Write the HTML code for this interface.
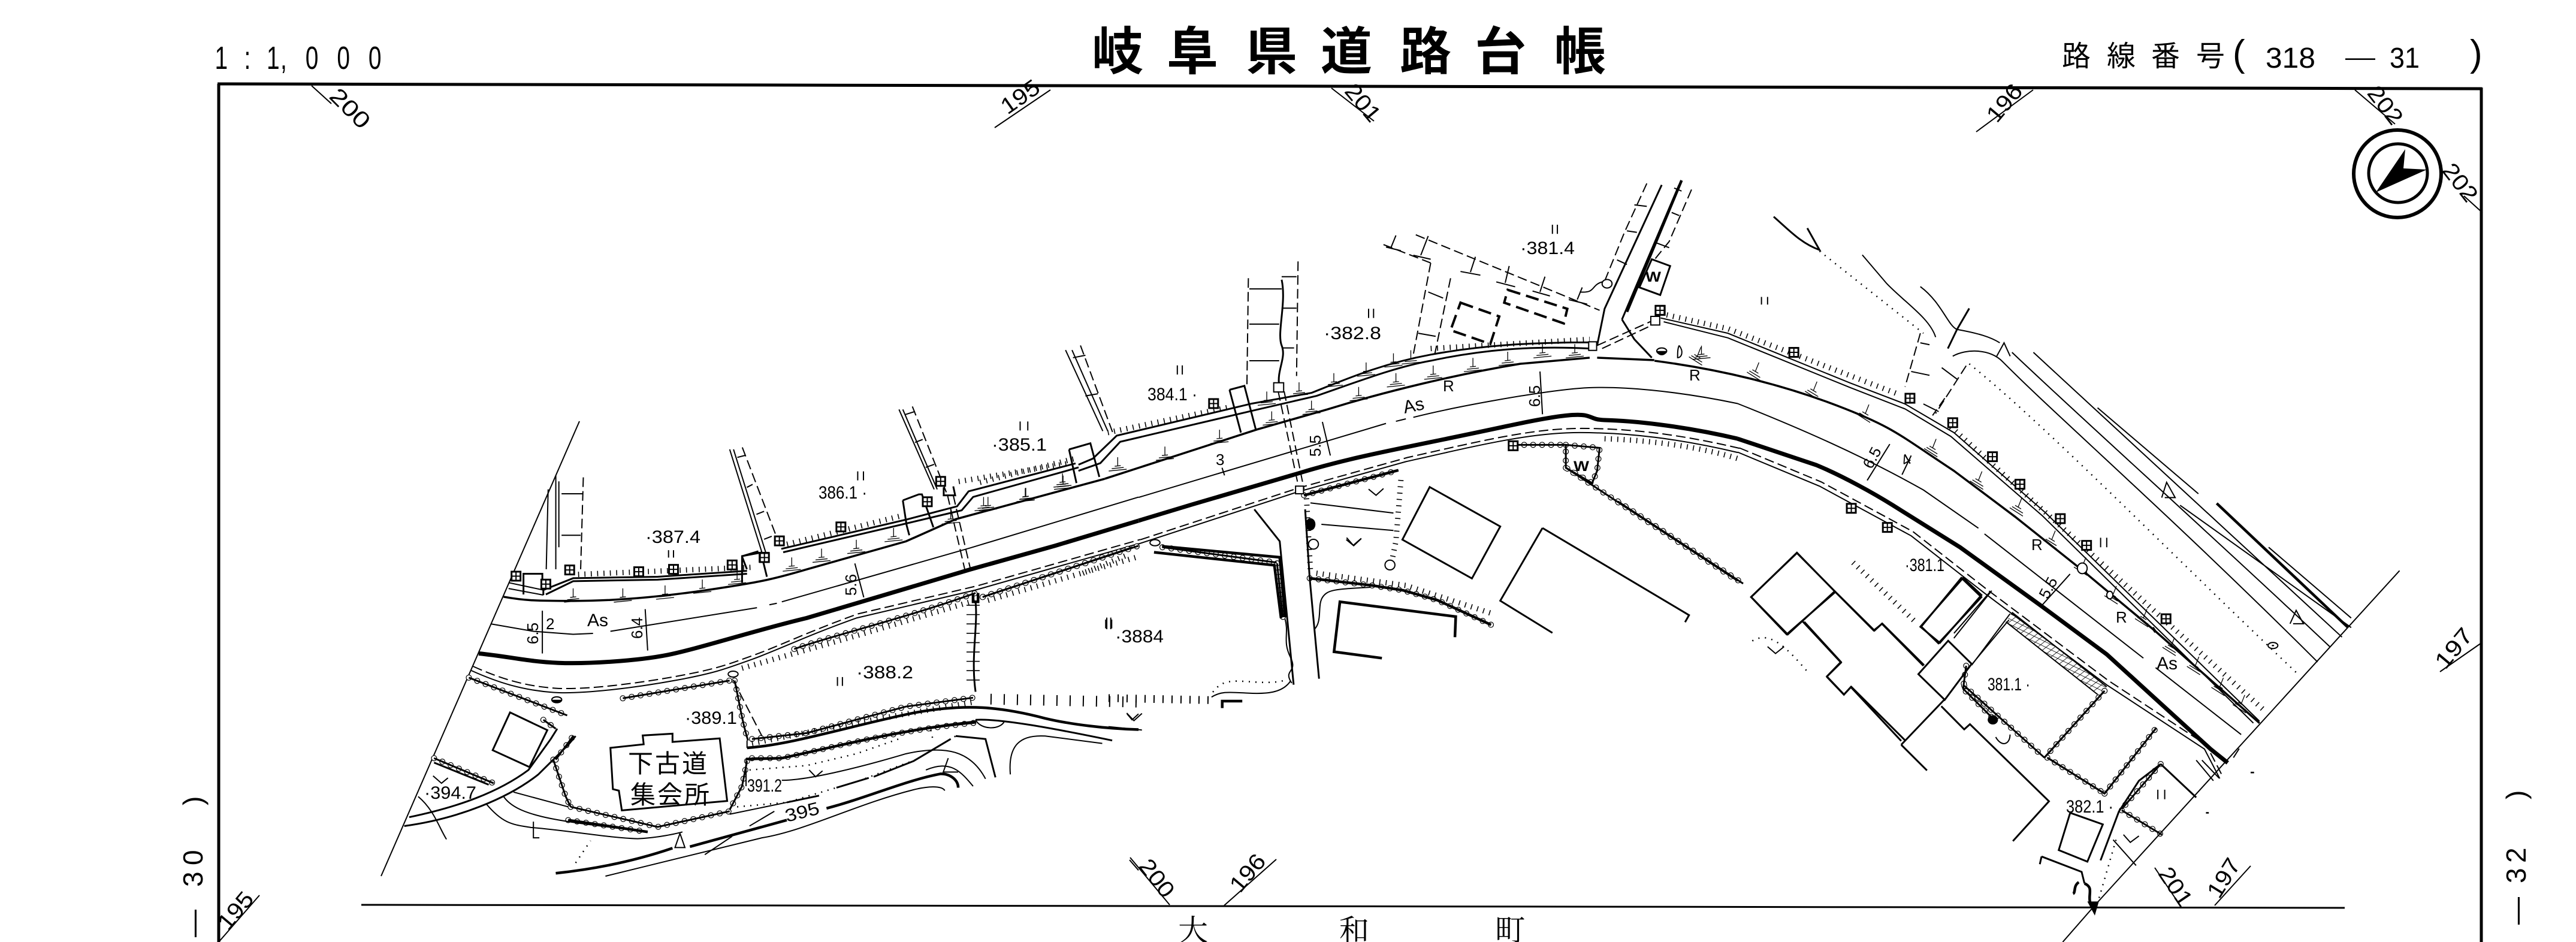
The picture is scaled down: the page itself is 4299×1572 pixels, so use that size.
<!DOCTYPE html>
<html lang="ja"><head><meta charset="utf-8"><title>岐阜県道路台帳</title>
<style>
html,body{margin:0;padding:0;background:#fff}
body{width:4299px;height:1572px;overflow:hidden}
svg{display:block}
svg *{vector-effect:non-scaling-stroke}
svg{fill:none;stroke:#000;stroke-width:2}
.t{stroke-width:2}.m{stroke-width:3}.e{stroke-width:3.5}.b{stroke-width:4.5}.x{stroke-width:7}
.d{stroke-width:2;stroke-dasharray:16 7}
.db{stroke-width:4;stroke-dasharray:22 10}
.o{stroke-width:2.5;stroke-dasharray:2 9}
.ts{stroke-width:9;stroke-dasharray:1.6 9}
.hb{stroke-width:10;stroke-dasharray:0 15;stroke-linecap:round}
.hw{stroke-width:7.6;stroke-dasharray:0 15;stroke-linecap:round;stroke:#fff}
.gm{stroke-width:1.3}
.f{fill:#000;stroke:none}
.wf{fill:#fff;stroke:#000}
text{fill:#000;stroke:none;font-family:"Liberation Sans","Noto Sans CJK JP",sans-serif}
.n{font-size:30px}
.tt{font-size:86px;font-weight:700}
.lb{font-size:38px}
.jp{font-size:42px}
</style></head><body>
<svg xmlns="http://www.w3.org/2000/svg" width="4299" height="1572" viewBox="0 0 4299 1572">
<defs>
<g id="bx"><rect class="f" x="-9" y="-9" width="18" height="18"/><rect x="-6" y="-6" width="5" height="5" fill="#fff" stroke="none"/><rect x="1" y="-6" width="5" height="5" fill="#fff" stroke="none"/><rect x="-6" y="1" width="5" height="5" fill="#fff" stroke="none"/><rect x="1" y="1" width="5" height="5" fill="#fff" stroke="none"/></g>
<g id="b2" transform="scale(1.206,2.031)"><use href="#bx"/></g>
<g id="b3" transform="scale(1.206,1.96)"><use href="#bx"/></g>
<g id="b4" transform="scale(.98,1.568)"><use href="#bx"/></g>
<g id="b7" transform="scale(1.568,3)"><use href="#bx"/></g>
<g id="g2" transform="scale(1.206,2.031)"><path class="gm" d="M0,-15V0M-5,0L5,-1M-10,4L10,2M-15,8L15,5"/></g>
<g id="g3" transform="scale(1.206,1.96)"><path class="gm" d="M0,-15V0M-5,0L5,-1M-10,4L10,2M-15,8L15,5"/></g>
<g id="g4" transform="scale(.98,1.568)"><path class="gm" d="M6,-15L0,0M-5,-3L5,3M-10,-1L8,10M-14,1L8,15"/></g>
<pattern id="gh" width="11" height="11" patternUnits="userSpaceOnUse" patternTransform="rotate(38)"><path d="M0,0H11M0,0V11" stroke="#000" stroke-width="2" fill="none"/></pattern>
<g id="hg">
<g transform="translate(600,800) scale(.8291,.4923)">
<path d="M530,742L745,682"/><path d="M755,682C765,760 770,820 782,885"/><path d="M790,880L900,860L1010,810L1100,770L1235,740"/>
<path d="M790,945L850,945C950,910 1080,850 1240,825"/><path d="M780,955L770,1040L745,1120"/>
<path d="M390,950L415,1075L425,1110"/><path d="M425,1110L600,1178L745,1125"/><path d="M420,1155L580,1195"/>
<path d="M150,945L270,1030"/><path d="M220,672L418,800"/><path d="M875,575C950,530 1100,470 1240,385"/><path d="M1255,398L1568,225"/>
<path d="M370,815L395,845"/><path d="M395,950L430,870"/>
</g>
<g transform="translate(1600,250) scale(.8291,.5102)">
<path d="M48,1463L350,1300"/><path d="M695,1130L885,1048"/><path d="M410,1300L640,1350"/>
<path d="M1222,965L1290,975L1285,1050L1275,1090L1222,1040Z"/><path d="M1120,965L1222,965"/><path d="M1222,1040L1568,1410"/>
</g>
<g transform="translate(1850,850) scale(.4464,.3333)">
<path d="M630,270L652,540"/>
<path d="M752,345L980,380L1100,405L1230,455L1430,578"/>
</g>
<g transform="translate(2700,250) scale(1.0198,.6378)">
<path d="M0,920L205,1135"/>
<path d="M570,1350L565,1410L615,1490"/>
</g>
<g transform="translate(2800,900) scale(.956,.4286)">
<path d="M500,570L640,850"/><path d="M645,850L745,990"/><path d="M745,990L835,735"/><path d="M745,590L640,850"/><path d="M843,875L775,1050"/><path d="M775,1055L845,1150"/>
</g>
</g>
<g id="swk">
<g transform="translate(600,800) scale(.8291,.4923)"><path d="M225,648C280,690 330,715 390,722S560,705 640,680S740,640 790,610S900,530 1000,470L1240,375L1568,218"/></g>
<g transform="translate(1600,250) scale(.8291,.5102)"><path d="M362,1289L680,1120L900,1020C1050,965 1150,925 1250,925S1450,945 1568,990"/></g>
<g transform="translate(2700,250) scale(1.0198,.6378)"><path d="M196,791L330,880L480,1010L600,1160L800,1400L960,1568L985,1645"/></g>
</g>
</defs>

<!-- frame -->
<path class="b" d="M365,140L365,1572M363,140L4142,148M4141,146L4141,1572" style="stroke-width:5"/>
<path class="m" d="M603,1510L3913,1515"/>

<!-- header -->
<text class="tt" x="1822 1947 2079 2204 2336 2461 2594" y="116">岐阜県道路台帳</text>
<text font-size="48" x="3441 3516 3590 3665" y="110" style="font-family:'Liberation Sans','Noto Sans CJK JP',sans-serif">路線番号</text>
<text font-size="62" x="3726" y="110">(</text>
<text font-size="48" x="3781" y="113" textLength="83" lengthAdjust="spacingAndGlyphs">318</text>
<text font-size="40" x="3914" y="109" textLength="50" lengthAdjust="spacingAndGlyphs">—</text>
<text font-size="48" x="3988" y="113" textLength="50" lengthAdjust="spacingAndGlyphs">31</text>
<text font-size="62" x="4122" y="110">)</text>
<g transform="scale(.72,1)"><text font-size="54" x="498 566 618 650 708 781 854" y="115">1:1,000</text></g>
<text font-size="46" transform="translate(338,1572) rotate(-90)" x="8 92 128 228" y="0">—30)</text>
<text font-size="46" transform="translate(4215,1572) rotate(-90)" x="29 98 132 238" y="0">—32)</text>
<text font-size="50" x="1966 2235 2495" y="1570" style="font-family:'Liberation Serif','Noto Serif CJK SC',serif">大和町</text>

<!-- grid ticks -->
<g class="t">
<path d="M520,143L553,173M1753,150L1660,213M2222,147L2293,202M3393,150L3298,220M3930,150L3997,207M4112,327L4143,355M4141,1073L4072,1121M365,1572L433,1494M1886,1431L1952,1510M2043,1511L2130,1434M3596,1448L3641,1515M3696,1511L3756,1445"/>
</g>
<g class="lb">
<text text-anchor="middle" transform="translate(585,180) rotate(45)" textLength="78" lengthAdjust="spacingAndGlyphs" y="14">200</text>
<text text-anchor="middle" transform="translate(1710,172) rotate(-35)" textLength="70" lengthAdjust="spacingAndGlyphs" y="0">195</text>
<text text-anchor="middle" transform="translate(2274,172) rotate(50)" textLength="70" lengthAdjust="spacingAndGlyphs" y="12">201</text>
<text text-anchor="middle" transform="translate(3355,180) rotate(-50)" textLength="70" lengthAdjust="spacingAndGlyphs" y="0">196</text>
<text text-anchor="middle" transform="translate(3980,176) rotate(52)" textLength="70" lengthAdjust="spacingAndGlyphs" y="12">202</text>
<text text-anchor="middle" transform="translate(4105,305) rotate(52)" textLength="70" lengthAdjust="spacingAndGlyphs" y="12">202</text>
<text text-anchor="middle" transform="translate(4105,1090) rotate(-50)" textLength="75" lengthAdjust="spacingAndGlyphs" y="0">197</text>
<text text-anchor="middle" transform="translate(403,1528) rotate(-50)" textLength="70" lengthAdjust="spacingAndGlyphs" y="0">195</text>
<text text-anchor="middle" transform="translate(1930,1466) rotate(52)" textLength="70" lengthAdjust="spacingAndGlyphs" y="12">200</text>
<text text-anchor="middle" transform="translate(2092,1465) rotate(-50)" textLength="70" lengthAdjust="spacingAndGlyphs" y="0">196</text>
<text text-anchor="middle" transform="translate(3630,1480) rotate(56)" textLength="70" lengthAdjust="spacingAndGlyphs" y="12">201</text>
<text text-anchor="middle" transform="translate(3722,1472) rotate(-58)" textLength="70" lengthAdjust="spacingAndGlyphs" y="0">197</text>
</g>

<!-- north arrow -->
<circle class="wf" cx="4001" cy="290" r="73" style="stroke-width:6"/>
<circle cx="4002" cy="289" r="49" style="stroke-width:5"/>
<path class="f" d="M4014,249L3965,321L4050,283L4011,281Z"/>

<!-- boundary, road -->
<path class="t" d="M967,703L636,1462"/>

<!-- sidewalk / south edge double -->
<use href="#swk" class="t"/>
<use href="#swk" class="d" transform="translate(3,-7)"/>

<!-- hedges -->
<use href="#hg" class="hb"/>
<use href="#hg" class="hw"/>
<use href="#hg" class="m"/>

<!-- Z7 region -->
<g transform="translate(800,550) scale(.6378,.3333)">
<path class="t" d="M200,730V1200M180,800L175,1200M208,760V1090"/>
<path class="d" d="M272,740L265,1200"/>
<path class="t" d="M215,822H270M215,1030H265"/>
<path class="t" d="M655,600L740,1120M665,600L750,1120"/><path class="d" d="M688,590L778,1040"/>
<path class="t" d="M675,640L695,630M700,790L715,775M725,925L745,910M745,1050L765,1035"/>
<path class="t" d="M1098,400L1190,800M1108,400L1198,800"/><path class="d" d="M1133,385L1225,830"/>
<path class="t" d="M1115,425L1140,410M1140,565L1160,550M1168,690L1190,675"/>
<path class="m" d="M790,1098L1120,950L1250,885L1280,810L1560,670"/>
<path class="m" d="M795,1115L1130,965L1262,905L1292,838L1568,690"/>
<path class="ts" d="M805,1075L1110,930"/><path class="ts" d="M1310,765L1560,645"/>
<path class="m" d="M1108,855L1118,980L1125,1030M1108,855L1150,825L1158,825L1188,990"/>
<path class="m" d="M1215,790V830L1245,830L1240,785"/>
<path class="m" d="M687,1135L730,1110M687,1135L700,1200"/>
<path class="d" d="M1240,830L1285,1200"/><path class="d" d="M1225,830L1270,1200"/>
<use href="#b7" x="785" y="1058"/><use href="#b7" x="745" y="1140"/><use href="#b7" x="1207" y="760"/><use href="#b7" x="1172" y="862"/><use href="#b7" x="946" y="988"/>
<path class="t" d="M990,710V755M1005,710V755M1415,460V505M1435,460V505"/>
</g>

<!-- Z2 region -->
<g transform="translate(600,800) scale(.8291,.4923)">
<path class="x" d="M240,590C300,600 340,618 400,622S560,615 620,595S800,510 900,470L1050,395L1230,305L1400,225L1568,140"/>
<path class="t" d="M265,490L350,515L430,525L470,522M505,515L800,435M825,425L840,420M850,415L1230,232L1568,60"/>
<path class="e" d="M290,398C330,410 350,412 430,412S600,400 700,375S830,340 900,305L1100,210L1200,135L1500,-2"/>
<path class="m" d="M370,392V340M370,375L430,335L600,330L780,310M375,390L430,345L600,340L780,320"/>
<path class="ts" d="M440,322L790,298"/>
<path class="t" d="M300,350L370,375M300,370L370,392"/>
<path class="m" d="M330,390V320H368V350M770,350V260L808,248L820,330"/>
<use href="#b2" x="315" y="328"/><use href="#b2" x="375" y="355"/><use href="#b2" x="423" y="307"/><use href="#b2" x="562" y="313"/><use href="#b2" x="632" y="305"/><use href="#b2" x="750" y="290"/><use href="#b2" x="815" y="265"/>
<use href="#g2" x="430" y="400"/><use href="#g2" x="530" y="400"/><use href="#g2" x="615" y="390"/><use href="#g2" x="690" y="370"/><use href="#g2" x="760" y="340"/><use href="#g2" x="870" y="295"/><use href="#g2" x="930" y="265"/><use href="#g2" x="1000" y="235"/><use href="#g2" x="1075" y="195"/><use href="#g2" x="1190" y="135"/><use href="#g2" x="1265" y="90"/><use href="#g2" x="1340" y="60"/><use href="#g2" x="1415" y="10"/>
<path class="t" d="M368,445V590M575,440L580,580M997,285L1015,400"/>
<path class="t" d="M622,240V265M632,240V265M962,670V700M972,670V700M1502,475V505M1514,475V505"/>
<!-- south parcels -->
<path class="ts" d="M770,640L1000,530L1240,410"/>
<path class="ts" d="M1265,410L1568,262"/>
<path class="b" d="M1235,385V415H1245V385"/>
<path class="m" d="M1240,415C1245,500 1230,600 1240,720"/>
<path style="stroke-width:22;stroke-dasharray:1.6 14" d="M1235,425V700"/>
<path class="d" d="M752,680L810,870"/>
<circle class="wf" cx="752" cy="660" r="10"/>
<path class="b" d="M780,910C870,900 1000,830 1120,790C1220,760 1290,770 1380,810C1430,830 1500,845 1568,848"/>
<path class="m" d="M1240,815C1290,810 1400,845 1515,885"/>
<path class="b" d="M778,948L850,945C950,910 1080,850 1240,822"/>
<path class="ts" d="M790,895L1000,825L1235,755"/>
<path style="stroke-width:18;stroke-dasharray:2 20" d="M1270,745L1568,755"/>
<path class="t" d="M780,885V910M778,950V1040"/>
<path class="o" d="M785,985L900,970L1000,930L1085,880M1150,850L1155,890"/>
<path class="o" d="M760,1110L860,1095L1000,1025L1120,950L1200,870"/>
<path class="m" d="M860,1095L925,1072M960,1045L1025,1012M1035,1008L1115,955L1190,880"/>
<path class="t" d="M745,1135L860,1095"/>
<path class="b" d="M395,1335C480,1320 560,1290 630,1250M665,1245L860,1155M940,1115C1020,1080 1100,1020 1170,998C1190,998 1205,1020 1205,1045"/>
<path class="t" d="M495,1345L810,1215C900,1190 1000,1100 1120,1050C1160,1035 1175,1045 1178,1055"/>
<path class="t" d="M850,1020C900,1020 1000,980 1100,930C1180,900 1230,920 1260,1015"/>
<path class="t" d="M1140,985C1190,950 1210,990 1235,1040"/>
<path class="m" d="M1200,870L1260,880L1280,1010"/>
<path class="t" d="M1310,1000C1305,900 1330,865 1380,870L1495,895"/>
<path class="t" d="M1240,815C1250,850 1290,850 1298,820"/>
<path class="t" d="M835,1125L785,1175M750,1210L695,1272"/>
<path class="o" d="M435,1300L465,1225"/>
<path class="t" d="M310,1060L420,1110M290,1075C320,1150 420,1160 580,1195M255,1100C290,1170 310,1170 345,1180C420,1190 500,1215 560,1218C600,1215 640,1200 650,1195M118,1075C150,1120 160,1180 175,1220"/>
<path class="m" d="M90,1175C200,1150 300,1080 360,1000L420,900L435,870M100,1145C200,1110 280,1060 340,985L385,880L398,845"/>
<path class="m" d="M150,960L260,1035M303,790L378,850L342,975L268,918ZM378,850"/>
<path class="b" d="M420,1155L580,1195"/>
<path class="m" d="M505,910L572,898L570,868L630,862V890L725,878L740,1090L528,1122L522,1055L510,1050Z"/>
<circle class="wf" cx="397" cy="747" r="10"/><path class="f" d="M387,747A10,10 0 0 0 407,747Z"/>
<path class="t" d="M148,1005L165,1030L178,1012M905,985L918,1008L932,988M1545,795L1555,815L1568,795M1550,1290L1568,1325"/>
<path class="t" d="M350,1160V1215H362M645,1200L635,1248H655L645,1200M1185,945L1175,992H1205"/>
</g>

<!-- Z8 region: centre parcels -->
<g transform="translate(1850,850) scale(.4464,.3333)">
<path class="b" d="M200,185L640,240L660,540"/>
<path class="b" d="M170,215L620,280L645,545"/>
<path class="m" d="M545,0L640,160L692,878"/>
<path class="m" d="M735,0L752,345L787,848"/>
<path class="t" d="M660,550C675,620 650,660 680,740S650,800 685,870"/>
<path class="t" d="M385,940C420,910 450,915 520,920S650,920 680,860"/>
<path class="o" d="M390,915C410,880 430,860 480,860S620,880 670,850"/>
<path style="stroke-width:13;stroke-dasharray:2 13" d="M0,945L375,955"/>
<path class="b" d="M425,995V960H500"/>
<path class="b" d="M1295,640L1298,537L865,463L843,713L1022,745"/>
<path class="t" d="M0,1088L125,1105"/>
<path class="t" d="M770,600C800,560 780,480 800,440S850,400 980,390"/>
<path class="b" d="M752,345L980,380L1100,405L1230,455L1430,578"/>
</g>

<!-- Z3 region -->
<g transform="translate(1600,250) scale(.8291,.5102)">
<path class="x" d="M362,1213L470,1160L680,1060C800,1000 900,975 1100,905S1250,882 1300,884S1450,900 1568,945"/>
<path class="t" d="M362,1137L520,1060L860,895M880,888L900,880M915,875C1000,840 1170,790 1250,780S1450,790 1568,830"/>
<path class="e" d="M294,1076L600,915L740,850C860,790 1000,735 1130,700L1270,680M1285,680L1400,688"/>
<path class="m" d="M241,1030L270,1010L318,935L590,830L710,795C780,750 850,700 950,670C1050,640 1150,630 1270,630"/>
<path class="m" d="M241,1050L285,1025L325,955L600,850L720,805C800,760 880,710 950,690C1050,655 1150,640 1270,650"/>
<path class="ts" d="M0,1085L225,1025"/><path class="ts" d="M300,925L550,840"/><path class="ts" d="M950,650L1270,620"/>
<path class="m" d="M222,980L265,960L283,1070M222,980L237,1090M545,785L575,772L598,915M545,785L568,925"/>
<use href="#b3" x="513" y="830"/><use href="#b3" x="1412" y="525"/>
<use href="#g3" x="50" y="1165"/><use href="#g3" x="135" y="1135"/><use href="#g3" x="210" y="1095"/><use href="#g3" x="320" y="1035"/><use href="#g3" x="415" y="1000"/><use href="#g3" x="525" y="945"/><use href="#g3" x="630" y="885"/><use href="#g3" x="710" y="850"/><use href="#g3" x="805" y="805"/><use href="#g3" x="880" y="760"/><use href="#g3" x="955" y="735"/><use href="#g3" x="1035" y="710"/><use href="#g3" x="1105" y="690"/><use href="#g3" x="1175" y="665"/><use href="#g3" x="1240" y="665"/><use href="#g3" x="620" y="820"/><use href="#g3" x="685" y="790"/><use href="#g3" x="755" y="760"/><use href="#g3" x="820" y="725"/><use href="#g3" x="875" y="695"/><use href="#g3" x="910" y="685"/><use href="#g3" x="1495" y="670"/>
<path class="t" d="M215,655L290,920M228,655L300,920"/><path class="d" d="M245,640L310,925"/>
<path class="t" d="M230,680L255,672M255,805L280,798"/>
<path class="m" d="M650,425C660,500 640,600 650,640S640,720 645,770"/>
<path class="d" d="M583,420L580,780"/><path class="d" d="M683,365L680,740"/>
<path class="t" d="M585,455H650M585,570H645M585,690H645M650,415H680M650,518H680M650,648H675"/>
<rect class="wf" x="634" y="762" width="20" height="30"/>
<path class="d" d="M643,790L685,1110"/><path class="d" d="M655,790L695,1110"/>
<rect class="wf" x="678" y="1100" width="16" height="25"/>
<path class="b" d="M695,1130L885,1048"/>
<path class="ts" d="M250,1385L340,1325"/>
<circle class="wf" cx="395" cy="1285" r="10"/>
<path class="ts" d="M890,1080L880,1280L870,1360"/><path class="ts" d="M700,1140L708,1380"/>
<path class="t" d="M708,1155L875,1188M730,1225L875,1245"/>
<path class="t" d="M825,1110L840,1130L855,1108M780,1275L795,1295L810,1272"/>
<ellipse class="f" cx="708" cy="1225" rx="10" ry="20"/>
<ellipse class="wf" cx="714" cy="1290" rx="10" ry="16"/><ellipse class="wf" cx="868" cy="1358" rx="10" ry="16"/>
<path class="ts" d="M720,1385L900,1425L1070,1515"/>
<path class="m" d="M948,1103L1090,1232L1033,1402L893,1275Z"/>
<path class="m" d="M1175,1237L1470,1522L1462,1545M1175,1237L1090,1475L1195,1580"/>
<path class="ts" d="M1300,945C1400,950 1500,975 1568,1010"/>
<rect class="f" x="1110" y="955" width="16" height="30"/>
<!-- junction -->
<path class="m" d="M1285,640L1300,520L1415,115M1335,555L1450,115"/>
<path class="b" d="M1345,530L1455,100"/>
<path class="d" d="M1385,110L1340,270L1300,430"/><path class="d" d="M1475,130L1430,300L1400,360"/>
<path class="t" d="M1360,180L1385,185M1345,265L1365,270M1325,360L1345,375M1440,125L1455,135M1435,205L1450,215M1405,305L1430,320"/>
<path class="t" d="M1250,465C1285,470 1270,440 1300,430"/><ellipse class="wf" cx="1305" cy="438" rx="10" ry="14"/>
<path class="m" d="M1335,555L1360,620L1395,680"/>
<path class="d" d="M1285,640L1395,560"/><path class="d" d="M1295,650L1400,570"/>
<rect class="wf" x="1268" y="628" width="16" height="28"/><rect class="wf" x="1393" y="545" width="18" height="28"/>
<path class="m" d="M1395,358L1432,380L1412,475L1370,450Z"/>
<circle class="wf" cx="1415" cy="658" r="10"/><path class="f" d="M1405,658A10,14 0 0 0 1425,658Z"/>
<path class="t" d="M1450,640C1460,660 1455,680 1447,680C1447,665 1447,650 1450,640"/>
<path class="d" d="M855,310L950,370"/><path class="d" d="M920,278L1290,525"/>
<path class="t" d="M880,280L870,320M945,282L930,345M1040,350L1030,400M1108,380L1100,435M1180,415L1170,465M1255,450L1245,490"/>
<path class="t" d="M860,318L890,330M915,345L950,358M1010,398L1050,410M1082,432L1120,448M1155,462L1190,478M1228,490L1265,505"/>
<path class="d" d="M950,370L915,670"/><path class="d" d="M990,420L958,670"/>
<path class="t" d="M945,465L975,485M925,600L960,610"/>
<path class="db" d="M1010,500L1088,545L1070,635L990,590Z"/><path class="db" d="M1105,458L1225,520L1218,568L1098,500Z"/>
<path class="t" d="M732,890L748,1000M1170,725L1175,865M530,1040L535,1065"/>
<path class="t" d="M440,705V735M450,705V735M825,520V550M835,520V550M1195,245V275M1205,245V275M298,1530V1568M306,1530V1568"/>
<use href="#b3" x="1116" y="968"/>
</g>

<!-- Z4 region -->
<g transform="translate(2700,250) scale(1.0198,.6378)">
<path class="x" d="M196,756L325,825C370,855 420,900 450,930L560,1040L690,1190L800,1320L970,1568L998,1604"/>
<path class="t" d="M196,664C300,730 400,800 500,890L590,990M600,1005L620,1030L860,1330M880,1355L1020,1530"/>
<path class="e" d="M60,552C170,575 270,615 360,670S460,745 550,840L650,960L760,1100L880,1260L1050,1500"/>
<path class="t" d="M70,440L180,480L380,610L470,665L550,740L700,950L1050,1495"/>
<path class="t" d="M75,450L180,492L380,622L470,678L545,750L695,958L1040,1500"/>
<path class="ts" d="M80,432L180,468L460,640"/><path class="ts" d="M545,725L1060,1470"/>
<use href="#b4" x="69" y="420"/><use href="#b4" x="288" y="530"/><use href="#b4" x="478" y="650"/><use href="#b4" x="548" y="714"/><use href="#b4" x="613" y="803"/><use href="#b4" x="658" y="875"/><use href="#b4" x="724" y="965"/><use href="#b4" x="767" y="1035"/><use href="#b4" x="897" y="1227"/><use href="#b4" x="382" y="938"/><use href="#b4" x="441" y="988"/>
<use href="#g4" x="130" y="540"/><use href="#g4" x="225" y="580"/><use href="#g4" x="320" y="630"/><use href="#g4" x="405" y="690"/><use href="#g4" x="515" y="780"/><use href="#g4" x="590" y="865"/><use href="#g4" x="655" y="935"/><use href="#g4" x="710" y="1020"/><use href="#g4" x="760" y="1090"/><use href="#g4" x="810" y="1165"/><use href="#g4" x="860" y="1225"/><use href="#g4" x="905" y="1300"/><use href="#g4" x="945" y="1350"/><use href="#g4" x="985" y="1405"/><use href="#g4" x="1020" y="1450"/>
<path class="m" d="M255,175C280,210 300,245 330,262L310,205"/>
<path class="o" d="M330,265L500,480"/>
<path class="t" d="M400,275L440,350C470,400 510,440 520,490M495,358C530,400 540,460 555,470"/>
<path class="m" d="M575,415L555,470L540,520"/>
<path class="t" d="M555,470C590,480 610,490 625,505M548,540C570,520 610,520 630,555C720,700 900,950 1145,1340"/>
<path class="t" d="M645,530C750,690 1000,1050 1165,1300M680,530L1185,1275M785,675L950,900M920,930L1200,1250"/>
<path class="b" d="M980,925L1195,1250"/><path class="t" d="M1065,1040L1200,1225"/>
<path class="o" d="M575,560C700,720 900,1050 1115,1375"/>
<path class="t" d="M620,540L632,505L642,540M890,910L898,870L912,910H895M1100,1240L1110,1205L1122,1240H1105"/>
<circle class="wf" cx="1072" cy="1297" r="8"/><circle class="f" cx="1072" cy="1297" r="2"/>
<path class="d" d="M495,480L470,620"/><path class="d" d="M570,565L520,690"/><path class="d" d="M535,650L515,695"/>
<path class="t" d="M495,505L510,510M480,580L510,590M530,570L555,600M500,665L525,685"/>
<path class="ts" d="M385,1080L490,1240"/>
<path class="m" d="M293,1055L355,1155L278,1268L218,1170Z"/>
<path class="m" d="M355,1155L420,1258L432,1240L500,1350M305,1235L365,1340L342,1378L370,1425L382,1405L470,1545"/>
<path class="m" d="M565,1120L595,1165L527,1290L495,1248Z"/>
<path class="t" d="M610,1155L550,1265M640,1230L580,1345"/>
<path d="M645,1210L800,1405L785,1425L635,1235Z" fill="url(#gh)" stroke="none"/>
<path class="t" d="M645,1210L800,1405M635,1235L785,1425"/>
<path class="o" d="M220,1285C250,1255 280,1310 310,1365"/>
<path class="t" d="M245,1300L258,1318L272,1300"/>
<path class="t" d="M445,770L408,865M740,1110L695,1190M480,800L465,850"/>
<path class="t" d="M235,385V405M245,385V405M790,1015V1040M800,1015V1040"/>
<ellipse class="wf" cx="760" cy="1095" rx="8" ry="14"/><ellipse class="wf" cx="805" cy="1165" rx="5" ry="10"/>
<path class="b" d="M875,1250L880,1262"/>
</g>

<!-- Z5 region -->
<g transform="translate(2800,900) scale(.956,.4286)">
<path class="t" d="M1260,122L730,1420L672,1568"/>
<path class="m" d="M420,525L472,395L513,485L466,625Z"/>
<path class="m" d="M460,650L500,740L510,720L648,1020L585,1175M390,800L435,900M465,625L390,800"/>
<path class="m" d="M260,535L285,480L218,320M260,535L290,605L302,575L390,785M275,205L342,355L357,328L430,490"/>
<path class="m" d="M208,52L275,205L190,370L128,225Z"/>
<path class="m" d="M495,150L530,225L455,405L425,340Z"/>
<path class="t" d="M548,200L482,385M580,290L513,490"/>
<path class="m" d="M843,875L905,1005M843,875L805,940L770,1060L738,1250"/>
<path class="m" d="M685,1065L742,1110L715,1255L665,1210Z"/>
<path class="m" d="M635,1235L705,1295L710,1340M635,1235L632,1265"/>
<path class="b" d="M700,1335C690,1350 695,1375 690,1380M710,1340C730,1360 710,1390 725,1440"/>
<path class="f" d="M715,1410H735L728,1465Z"/>
<path class="o" d="M765,1170L735,1400"/>
<path class="t" d="M760,1170L800,1270M778,1150L790,1180L805,1155"/>
<path class="m" d="M645,850L745,990L835,735M640,850L745,590"/>
<path class="t" d="M775,1055L845,1150"/>
<ellipse class="f" cx="550" cy="703" rx="9" ry="18"/>
<path class="t" d="M555,770C565,810 580,800 580,760"/>
<path class="t" d="M905,860L935,940M915,860L945,930"/>
<path class="t" d="M980,815L970,850"/>
<path class="t" d="M838,975V1012M850,975V1012"/>
<path class="f" d="M1000,905h6v6h-6z M922,1062h5v6h-5z"/>
</g>

<!-- Z8 small marks drawn last -->
<g transform="translate(1850,850) scale(.4464,.3333)">
<path class="t" d="M890,142L915,180L945,145M68,1020L95,1058L125,1022"/>
</g>

<!-- value labels -->
<g class="n">
<text x="1077" y="906" textLength="92" lengthAdjust="spacingAndGlyphs">·387.4</text>
<text x="1366" y="832" textLength="81" lengthAdjust="spacingAndGlyphs">386.1 ·</text>
<text x="1655" y="752" textLength="92" lengthAdjust="spacingAndGlyphs">·385.1</text>
<text x="1915" y="668" textLength="83" lengthAdjust="spacingAndGlyphs">384.1 ·</text>
<text x="2209" y="566" textLength="96" lengthAdjust="spacingAndGlyphs">·382.8</text>
<text x="2537" y="424" textLength="91" lengthAdjust="spacingAndGlyphs">·381.4</text>
<text x="1429" y="1132" textLength="95" lengthAdjust="spacingAndGlyphs">·388.2</text>
<text x="1861" y="1072" textLength="81" lengthAdjust="spacingAndGlyphs">·3884</text>
<text x="1143" y="1208" textLength="87" lengthAdjust="spacingAndGlyphs">·389.1</text>
<text x="1247" y="1321" textLength="58" lengthAdjust="spacingAndGlyphs">391.2</text>
<text x="708" y="1333" textLength="87" lengthAdjust="spacingAndGlyphs">·394.7</text>
<text transform="translate(1313,1372) rotate(-14)" textLength="58" lengthAdjust="spacingAndGlyphs">395</text>
<text x="3179" y="953" textLength="66" lengthAdjust="spacingAndGlyphs">·381.1</text>
<text x="3317" y="1152" textLength="71" lengthAdjust="spacingAndGlyphs">381.1 ·</text>
<text x="3448" y="1356" textLength="79" lengthAdjust="spacingAndGlyphs">382.1 ·</text>
<text x="980" y="1045">As</text>
<text transform="translate(2344,690) rotate(-12)">As</text>
<text x="3599" y="1117">As</text>
<text x="2408" y="653" font-size="26">R</text><text x="2819" y="635" font-size="26">R</text><text x="3390" y="918" font-size="26">R</text><text x="3531" y="1039" font-size="26">R</text>
<text x="2029" y="776" font-size="26">3</text><text x="3175" y="776" font-size="26" transform="rotate(-30 3182 770)">4</text><text x="911" y="1050" font-size="26">2</text>
</g>
<g font-size="26">
<text text-anchor="middle" transform="translate(898,1057) rotate(-90)">6.5</text>
<text text-anchor="middle" transform="translate(1072,1048) rotate(-90)">6.4</text>
<text text-anchor="middle" transform="translate(1429,976) rotate(-90)">5.6</text>
<text text-anchor="middle" transform="translate(2204,744) rotate(-90)">5.5</text>
<text text-anchor="middle" transform="translate(2570,661) rotate(-90)">6.5</text>
<text text-anchor="middle" transform="translate(3132,768) rotate(-62)">6.5</text>
<text text-anchor="middle" transform="translate(3426,985) rotate(-62)">5.5</text>
</g>
<text x="2626" y="786" font-size="24" font-weight="700" textLength="26" lengthAdjust="spacingAndGlyphs">W</text>
<text x="2746" y="470" font-size="24" font-weight="700" textLength="26" lengthAdjust="spacingAndGlyphs">W</text>
<text class="jp" x="1048 1093 1138" y="1289">下古道</text>
<text class="jp" x="1052 1097 1142" y="1341">集会所</text>
</svg>
</body></html>
